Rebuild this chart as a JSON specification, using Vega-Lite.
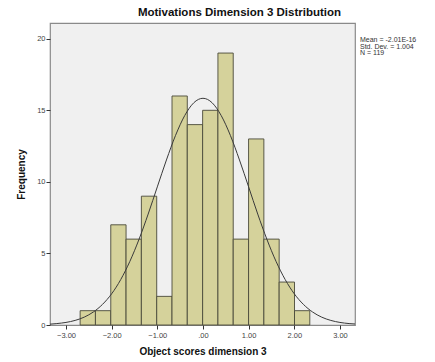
{
  "$schema": "https://vega.github.io/schema/vega-lite/v6.json",
  "width": 305,
  "height": 302,
  "autosize": "none",
  "padding": {"left": 50, "top": 23, "right": 80, "bottom": 37},
  "background": "white",
  "title": {"text": "Motivations Dimension 3 Distribution", "font": "Liberation Sans", "fontSize": 11.5, "fontWeight": "bold", "color": "#111", "anchor": "middle", "dx": 37, "offset": 5},
  "config": {"view": {"fill": "#f0f0f0", "stroke": "#8a8a8a", "strokeWidth": 1.2}},
  "datasets": {
    "bins": [
      {"start": -2.69, "end": -2.355, "count": 1},
      {"start": -2.355, "end": -2.019, "count": 1},
      {"start": -2.019, "end": -1.684, "count": 7},
      {"start": -1.684, "end": -1.349, "count": 6},
      {"start": -1.349, "end": -1.013, "count": 9},
      {"start": -1.013, "end": -0.678, "count": 2},
      {"start": -0.678, "end": -0.343, "count": 16},
      {"start": -0.343, "end": -0.007, "count": 14},
      {"start": -0.007, "end": 0.328, "count": 15},
      {"start": 0.328, "end": 0.663, "count": 19},
      {"start": 0.663, "end": 0.999, "count": 6},
      {"start": 0.999, "end": 1.334, "count": 13},
      {"start": 1.334, "end": 1.669, "count": 6},
      {"start": 1.669, "end": 2.005, "count": 3},
      {"start": 2.005, "end": 2.34, "count": 1}
    ],
    "curve": [
      {"x": -3.35, "y": 0.06}, {"x": -3.2, "y": 0.10}, {"x": -3.0, "y": 0.18}, {"x": -2.8, "y": 0.32},
      {"x": -2.6, "y": 0.55}, {"x": -2.4, "y": 0.91}, {"x": -2.2, "y": 1.44}, {"x": -2.0, "y": 2.18},
      {"x": -1.8, "y": 3.18}, {"x": -1.6, "y": 4.45}, {"x": -1.4, "y": 5.99}, {"x": -1.2, "y": 7.75},
      {"x": -1.0, "y": 9.65}, {"x": -0.8, "y": 11.53}, {"x": -0.6, "y": 13.25}, {"x": -0.4, "y": 14.63},
      {"x": -0.2, "y": 15.53}, {"x": 0.0, "y": 15.84}, {"x": 0.2, "y": 15.53}, {"x": 0.4, "y": 14.63},
      {"x": 0.6, "y": 13.25}, {"x": 0.8, "y": 11.53}, {"x": 1.0, "y": 9.65}, {"x": 1.2, "y": 7.75},
      {"x": 1.4, "y": 5.99}, {"x": 1.6, "y": 4.45}, {"x": 1.8, "y": 3.18}, {"x": 2.0, "y": 2.18},
      {"x": 2.2, "y": 1.44}, {"x": 2.4, "y": 0.91}, {"x": 2.6, "y": 0.55}, {"x": 2.8, "y": 0.32},
      {"x": 3.0, "y": 0.18}, {"x": 3.2, "y": 0.10}, {"x": 3.33, "y": 0.07}
    ],
    "stats": [{"lines": ["Mean = -2.01E-16", "Std. Dev. = 1.004", "N = 119"]}]
  },
  "layer": [
    {
      "data": {"name": "bins"},
      "mark": {"type": "bar", "fill": "#d5d29b", "stroke": "#4a4a3a", "strokeWidth": 0.9, "opacity": 1},
      "encoding": {
        "x": {"field": "start", "type": "quantitative",
          "scale": {"domain": [-3.35, 3.33], "nice": false, "zero": false},
          "axis": {"values": [-3, -2, -1, 0, 1, 2, 3], "labelExpr": "datum.value == 0 ? '.00' : format(datum.value, '.2f')",
            "title": "Object scores dimension 3", "titleFont": "Liberation Sans", "titleFontSize": 10, "titleFontWeight": "bold", "titleColor": "#111", "titlePadding": 8,
            "labelFont": "Liberation Sans", "labelFontSize": 7.5, "labelColor": "#444", "labelPadding": 2,
            "tickColor": "#333", "tickSize": 4, "domain": false, "grid": false}},
        "x2": {"field": "end"},
        "y": {"field": "count", "type": "quantitative",
          "scale": {"domain": [0, 21.1], "nice": false},
          "axis": {"values": [0, 5, 10, 15, 20], "title": "Frequency", "titleFont": "Liberation Sans", "titleFontSize": 10, "titleFontWeight": "bold", "titleColor": "#111", "titlePadding": 10,
            "labelFont": "Liberation Sans", "labelFontSize": 7.5, "labelColor": "#444", "labelPadding": 1,
            "tickColor": "#333", "tickSize": 4, "domain": false, "grid": false}},
        "y2": {"datum": 0}
      }
    },
    {
      "data": {"name": "curve"},
      "mark": {"type": "line", "color": "#3a3a3a", "strokeWidth": 1, "interpolate": "monotone", "clip": true},
      "encoding": {
        "x": {"field": "x", "type": "quantitative"},
        "y": {"field": "y", "type": "quantitative"}
      }
    },
    {
      "data": {"name": "stats"},
      "mark": {"type": "text", "align": "left", "baseline": "top", "font": "Liberation Sans", "fontSize": 7, "lineHeight": 6.8, "color": "#333", "dx": 5, "clip": false},
      "encoding": {
        "x": {"datum": 3.33, "type": "quantitative"},
        "y": {"datum": 20.2, "type": "quantitative"},
        "text": {"field": "lines"}
      }
    }
  ]
}
